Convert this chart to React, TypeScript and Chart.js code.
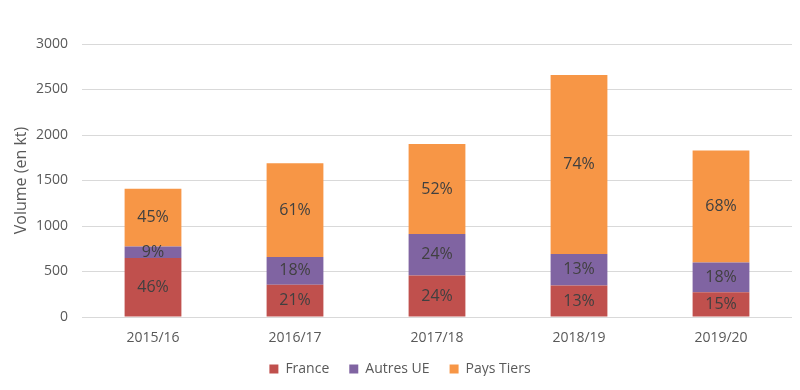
import React, { useEffect, useRef } from "react";
import { Chart, registerables } from "chart.js";

Chart.register(...registerables);

const categories = ["2015/16", "2016/17", "2017/18", "2018/19", "2019/20"];
const france = [649, 355, 456, 346, 272];
const autresUE = [127, 304, 456, 346, 326];
const paysTiers = [634, 1031, 989, 1968, 1233];
const franceLabels = ["46%", "21%", "24%", "13%", "15%"];
const autresLabels = ["9%", "18%", "24%", "13%", "18%"];
const paysLabels = ["45%", "61%", "52%", "74%", "68%"];
const yTicks = [0, 500, 1000, 1500, 2000, 2500, 3000];

const FONT = "'Open Sans', 'Liberation Sans', sans-serif";

const labelPlugin = {
  id: "segLabels",
  afterDatasetsDraw(chart: any) {
    const ctx = chart.ctx;
    const labelSets = [franceLabels, autresLabels, paysLabels];
    ctx.save();
    ctx.font = `16px ${FONT}`;
    ctx.fillStyle = "#404040";
    ctx.textAlign = "center";
    ctx.textBaseline = "middle";
    chart.data.datasets.forEach((_ds: any, di: number) => {
      const meta = chart.getDatasetMeta(di);
      meta.data.forEach((bar: any, i: number) => {
        const y = (bar.y + bar.base) / 2;
        ctx.fillText(labelSets[di][i], bar.x, y);
      });
    });
    ctx.restore();
  },
};

export default function App() {
  const ref = useRef<HTMLCanvasElement>(null);
  useEffect(() => {
    if (!ref.current) return;
    const chart = new Chart(ref.current, {
      type: "bar",
      data: {
        labels: categories,
        datasets: [
          { label: "France", data: france, backgroundColor: "#C0504D" },
          { label: "Autres UE", data: autresUE, backgroundColor: "#8064A2" },
          { label: "Pays Tiers", data: paysTiers, backgroundColor: "#F79646" },
        ],
      },
      options: {
        animation: false,
        responsive: true,
        maintainAspectRatio: false,
        layout: { padding: { left: 0, right: 0, top: 36, bottom: 14 } },
        datasets: {
          bar: { categoryPercentage: 1, barPercentage: 0.4 },
        },
        plugins: {
          legend: {
            position: "bottom",
            maxHeight: 34,
            labels: {
              boxWidth: 9,
              boxHeight: 9,
              color: "#595959",
              font: { family: FONT, size: 14 },
              padding: 20,
            },
          },
          tooltip: { enabled: false },
        },
        scales: {
          x: {
            stacked: true,
            grid: { display: false, drawTicks: false },
            border: { color: "#d9d9d9" },
            ticks: { color: "#595959", font: { family: FONT, size: 14 }, padding: 13 },
            afterFit: (axis: any) => {
              axis.height = 25;
            },
          },
          y: {
            stacked: true,
            min: 0,
            max: 3000,
            afterBuildTicks: (axis: any) => {
              axis.ticks = yTicks.map((v) => ({ value: v }));
            },
            afterFit: (axis: any) => {
              axis.width = 74;
            },
            grid: { color: "#d9d9d9", drawTicks: false },
            border: { display: false },
            ticks: {
              color: "#595959",
              font: { family: FONT, size: 14 },
              padding: 14,
              callback: (v: any) => String(v),
            },
            title: {
              display: true,
              text: "Volume (en kt)",
              color: "#595959",
              font: { family: FONT, size: 16 },
              padding: { top: 4, bottom: 4 },
            },
          },
        },
      },
      plugins: [labelPlugin],
    });
    return () => chart.destroy();
  }, []);
  return (
    <div style={{ width: 784, height: 382 }}>
      <canvas ref={ref} />
    </div>
  );
}
